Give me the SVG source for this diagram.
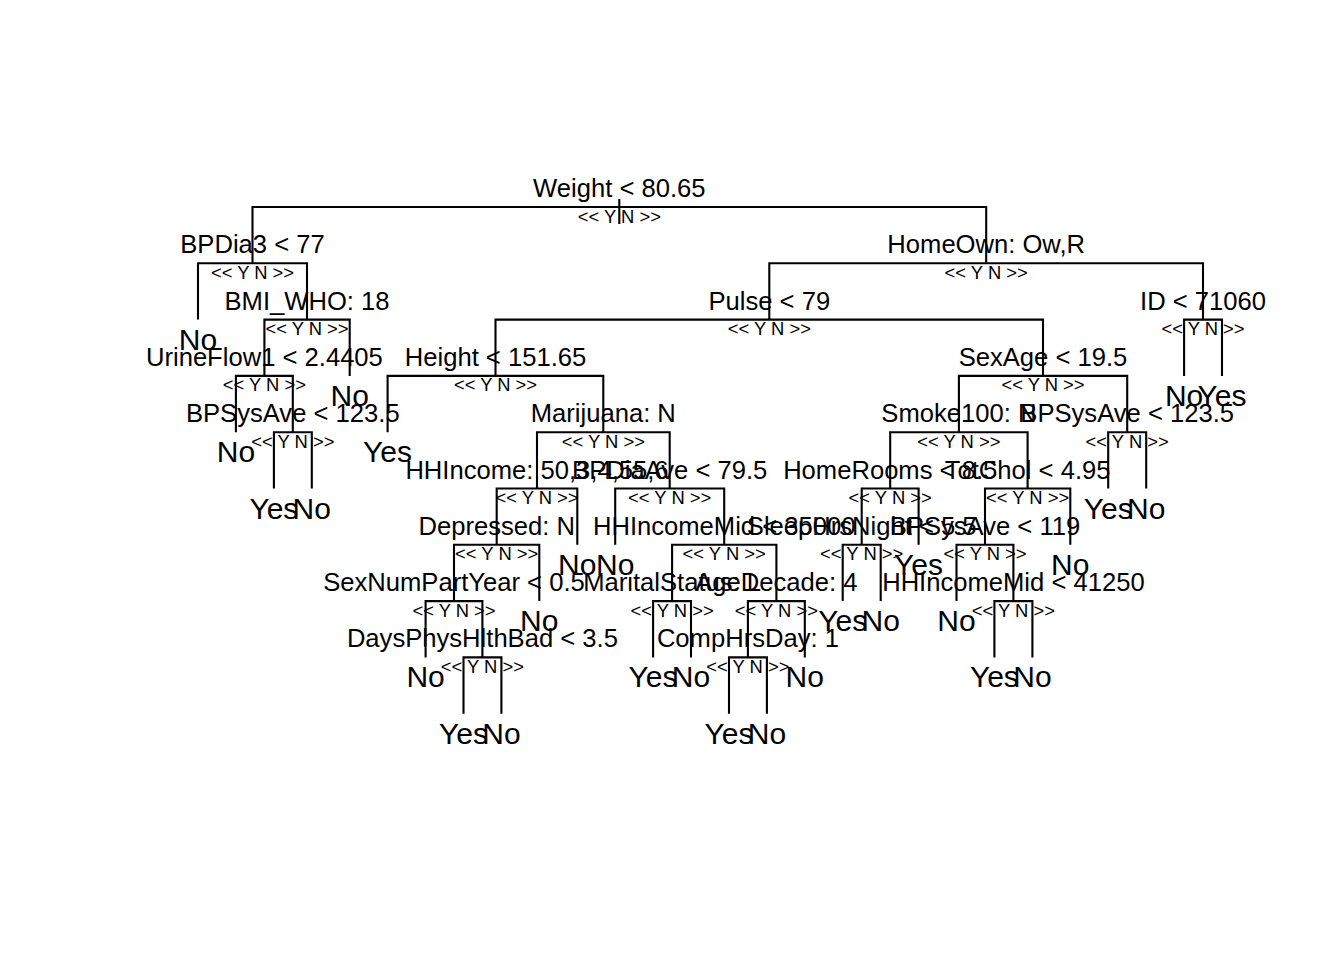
<svg xmlns="http://www.w3.org/2000/svg" width="1344" height="960" viewBox="0 0 1344 960">
<style>
text{font-family:"Liberation Sans",Arial,sans-serif;fill:#000;text-anchor:middle}
.s{font-size:25.6px}
.yn{font-size:18.4px}
.lf{font-size:30px}
#connectors path,#connectors line{fill:none;stroke:#000;stroke-width:2.1}
</style>
<rect width="1344" height="960" fill="#fff"/>
<g id="connectors">
<line x1="619.3" y1="199" x2="619.3" y2="224"/>
<path d="M252.5 263.3V207H986.2V263.3"/>
<path d="M198 319.6V263.3H307V319.6"/>
<path d="M769.3 319.6V263.3H1203V319.6"/>
<path d="M264.4 375.9V319.6H349.7V375.9"/>
<path d="M495.5 375.9V319.6H1043V375.9"/>
<path d="M1184.1 375.9V319.6H1222V375.9"/>
<path d="M235.9 432.2V375.9H292.8V432.2"/>
<path d="M387.6 432.2V375.9H603.3V432.2"/>
<path d="M958.9 432.2V375.9H1127.2V432.2"/>
<path d="M273.9 488.5V432.2H311.8V488.5"/>
<path d="M537 488.5V432.2H669.7V488.5"/>
<path d="M890.2 488.5V432.2H1027.6V488.5"/>
<path d="M1108.2 488.5V432.2H1146.2V488.5"/>
<path d="M496.7 544.8V488.5H577.3V544.8"/>
<path d="M615.2 544.8V488.5H724.2V544.8"/>
<path d="M861.7 544.8V488.5H918.6V544.8"/>
<path d="M985 544.8V488.5H1070.3V544.8"/>
<path d="M454 601.1V544.8H539.3V601.1"/>
<path d="M672.1 601.1V544.8H776.4V601.1"/>
<path d="M842.7 601.1V544.8H880.7V601.1"/>
<path d="M956.5 601.1V544.8H1013.4V601.1"/>
<path d="M425.6 657.4V601.1H482.4V657.4"/>
<path d="M653.1 657.4V601.1H691V657.4"/>
<path d="M747.9 657.4V601.1H804.8V657.4"/>
<path d="M994.4 657.4V601.1H1032.4V657.4"/>
<path d="M463.5 713.7V657.4H501.4V713.7"/>
<path d="M729 713.7V657.4H766.9V713.7"/>
</g>
<g id="n1"><text class="s" x="619.3" y="197">Weight &lt; 80.65</text><text class="yn" x="619.3" y="222.5">&lt;&lt; Y N &gt;&gt;</text></g>
<g id="n2"><text class="s" x="252.5" y="253.3">BPDia3 &lt; 77</text><text class="yn" x="252.5" y="278.8">&lt;&lt; Y N &gt;&gt;</text></g>
<g id="n3"><text class="s" x="986.2" y="253.3">HomeOwn: Ow,R</text><text class="yn" x="986.2" y="278.8">&lt;&lt; Y N &gt;&gt;</text></g>
<g id="n5"><text class="s" x="307" y="309.6">BMI_WHO: 18</text><text class="yn" x="307" y="335.1">&lt;&lt; Y N &gt;&gt;</text></g>
<g id="n6"><text class="s" x="769.3" y="309.6">Pulse &lt; 79</text><text class="yn" x="769.3" y="335.1">&lt;&lt; Y N &gt;&gt;</text></g>
<g id="n7"><text class="s" x="1203" y="309.6">ID &lt; 71060</text><text class="yn" x="1203" y="335.1">&lt;&lt; Y N &gt;&gt;</text></g>
<g id="n10"><text class="s" x="264.4" y="365.9">UrineFlow1 &lt; 2.4405</text><text class="yn" x="264.4" y="391.4">&lt;&lt; Y N &gt;&gt;</text></g>
<g id="n12"><text class="s" x="495.5" y="365.9">Height &lt; 151.65</text><text class="yn" x="495.5" y="391.4">&lt;&lt; Y N &gt;&gt;</text></g>
<g id="n13"><text class="s" x="1043" y="365.9">SexAge &lt; 19.5</text><text class="yn" x="1043" y="391.4">&lt;&lt; Y N &gt;&gt;</text></g>
<g id="n21"><text class="s" x="292.8" y="422.2">BPSysAve &lt; 123.5</text><text class="yn" x="292.8" y="447.7">&lt;&lt; Y N &gt;&gt;</text></g>
<g id="n25"><text class="s" x="603.3" y="422.2">Marijuana: N</text><text class="yn" x="603.3" y="447.7">&lt;&lt; Y N &gt;&gt;</text></g>
<g id="n26"><text class="s" x="958.9" y="422.2">Smoke100: N</text><text class="yn" x="958.9" y="447.7">&lt;&lt; Y N &gt;&gt;</text></g>
<g id="n27"><text class="s" x="1127.2" y="422.2">BPSysAve &lt; 123.5</text><text class="yn" x="1127.2" y="447.7">&lt;&lt; Y N &gt;&gt;</text></g>
<g id="n50"><text class="s" x="537" y="478.5">HHIncome: 50,3,4,55,6</text><text class="yn" x="537" y="504">&lt;&lt; Y N &gt;&gt;</text></g>
<g id="n51"><text class="s" x="669.7" y="478.5">BPDiaAve &lt; 79.5</text><text class="yn" x="669.7" y="504">&lt;&lt; Y N &gt;&gt;</text></g>
<g id="n52"><text class="s" x="890.2" y="478.5">HomeRooms &lt; 8.5</text><text class="yn" x="890.2" y="504">&lt;&lt; Y N &gt;&gt;</text></g>
<g id="n53"><text class="s" x="1027.6" y="478.5">TotChol &lt; 4.95</text><text class="yn" x="1027.6" y="504">&lt;&lt; Y N &gt;&gt;</text></g>
<g id="n100"><text class="s" x="496.7" y="534.8">Depressed: N</text><text class="yn" x="496.7" y="560.3">&lt;&lt; Y N &gt;&gt;</text></g>
<g id="n103"><text class="s" x="724.2" y="534.8">HHIncomeMid &lt; 35000</text><text class="yn" x="724.2" y="560.3">&lt;&lt; Y N &gt;&gt;</text></g>
<g id="n104"><text class="s" x="861.7" y="534.8">SleepHrsNight &lt; 5.5</text><text class="yn" x="861.7" y="560.3">&lt;&lt; Y N &gt;&gt;</text></g>
<g id="n106"><text class="s" x="985" y="534.8">BPSysAve &lt; 119</text><text class="yn" x="985" y="560.3">&lt;&lt; Y N &gt;&gt;</text></g>
<g id="n200"><text class="s" x="454" y="591.1">SexNumPartYear &lt; 0.5</text><text class="yn" x="454" y="616.6">&lt;&lt; Y N &gt;&gt;</text></g>
<g id="n206"><text class="s" x="672.1" y="591.1">MaritalStatus: L</text><text class="yn" x="672.1" y="616.6">&lt;&lt; Y N &gt;&gt;</text></g>
<g id="n207"><text class="s" x="776.4" y="591.1">AgeDecade: 4</text><text class="yn" x="776.4" y="616.6">&lt;&lt; Y N &gt;&gt;</text></g>
<g id="n213"><text class="s" x="1013.4" y="591.1">HHIncomeMid &lt; 41250</text><text class="yn" x="1013.4" y="616.6">&lt;&lt; Y N &gt;&gt;</text></g>
<g id="n401"><text class="s" x="482.4" y="647.4">DaysPhysHlthBad &lt; 3.5</text><text class="yn" x="482.4" y="672.9">&lt;&lt; Y N &gt;&gt;</text></g>
<g id="n414"><text class="s" x="747.9" y="647.4">CompHrsDay: 1</text><text class="yn" x="747.9" y="672.9">&lt;&lt; Y N &gt;&gt;</text></g>
<g id="leaf1"><text class="lf" x="198" y="349.6">No</text></g>
<g id="leaf2"><text class="lf" x="235.9" y="462.2">No</text></g>
<g id="leaf3"><text class="lf" x="273.9" y="518.5">Yes</text></g>
<g id="leaf4"><text class="lf" x="311.8" y="518.5">No</text></g>
<g id="leaf5"><text class="lf" x="349.7" y="405.9">No</text></g>
<g id="leaf6"><text class="lf" x="387.6" y="462.2">Yes</text></g>
<g id="leaf7"><text class="lf" x="425.6" y="687.4">No</text></g>
<g id="leaf8"><text class="lf" x="463.5" y="743.7">Yes</text></g>
<g id="leaf9"><text class="lf" x="501.4" y="743.7">No</text></g>
<g id="leaf10"><text class="lf" x="539.3" y="631.1">No</text></g>
<g id="leaf11"><text class="lf" x="577.3" y="574.8">No</text></g>
<g id="leaf12"><text class="lf" x="615.2" y="574.8">No</text></g>
<g id="leaf13"><text class="lf" x="653.1" y="687.4">Yes</text></g>
<g id="leaf14"><text class="lf" x="691" y="687.4">No</text></g>
<g id="leaf15"><text class="lf" x="729" y="743.7">Yes</text></g>
<g id="leaf16"><text class="lf" x="766.9" y="743.7">No</text></g>
<g id="leaf17"><text class="lf" x="804.8" y="687.4">No</text></g>
<g id="leaf18"><text class="lf" x="842.7" y="631.1">Yes</text></g>
<g id="leaf19"><text class="lf" x="880.7" y="631.1">No</text></g>
<g id="leaf20"><text class="lf" x="918.6" y="574.8">Yes</text></g>
<g id="leaf21"><text class="lf" x="956.5" y="631.1">No</text></g>
<g id="leaf22"><text class="lf" x="994.4" y="687.4">Yes</text></g>
<g id="leaf23"><text class="lf" x="1032.4" y="687.4">No</text></g>
<g id="leaf24"><text class="lf" x="1070.3" y="574.8">No</text></g>
<g id="leaf25"><text class="lf" x="1108.2" y="518.5">Yes</text></g>
<g id="leaf26"><text class="lf" x="1146.2" y="518.5">No</text></g>
<g id="leaf27"><text class="lf" x="1184.1" y="405.9">No</text></g>
<g id="leaf28"><text class="lf" x="1222" y="405.9">Yes</text></g>
</svg>
